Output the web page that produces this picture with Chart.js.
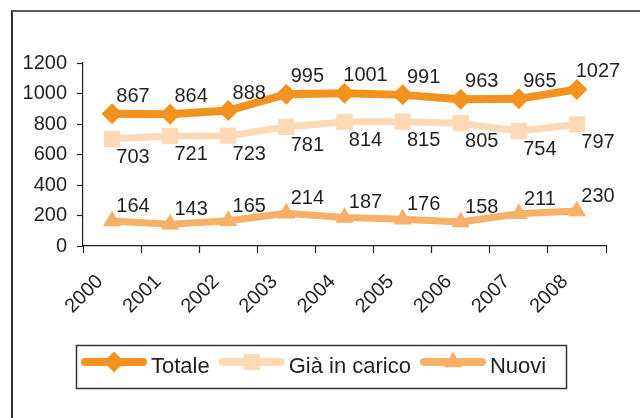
<!DOCTYPE html>
<html>
<head>
<meta charset="utf-8">
<script src="https://cdn.jsdelivr.net/npm/chart.js@4.4.1/dist/chart.umd.min.js"></script>
<style>
  html, body { margin: 0; padding: 0; background: #fff; }
  #wrap { position: relative; width: 640px; height: 418px; overflow: hidden; }
  /* outer frame of the original figure, cut off at right and bottom */
  #frame { position: absolute; left: 11px; top: 10px; width: 700px; height: 500px;
           border-top: 2px solid #5a5a5a; border-left: 2px solid #333; }
  canvas { position: absolute; left: 0; top: 0; }
</style>
</head>
<body>
<div id="wrap">
  <div id="frame"></div>
  <canvas id="chart" width="640" height="418"></canvas>
</div>
<script>
const years = ["2000", "2001", "2002", "2003", "2004", "2005", "2006", "2007", "2008"];
const totale = [867, 864, 888, 995, 1001, 991, 963, 965, 1027];
const giaInCarico = [703, 721, 723, 781, 814, 815, 805, 754, 797];
const nuovi = [164, 143, 165, 214, 187, 176, 158, 211, 230];
const yMin = 0, yMax = 1200, yStep = 200;

const FONT = '"Liberation Sans", Arial, Helvetica, sans-serif';
const INK = "#231f20";

/* value labels: above or below each point, nudged right like the original */
const valueLabels = {
  id: "valueLabels",
  afterDatasetsDraw(chart) {
    const ctx = chart.ctx;
    ctx.save();
    ctx.font = "20px " + FONT;
    ctx.fillStyle = INK;
    ctx.textAlign = "center";
    ctx.textBaseline = "alphabetic";
    chart.data.datasets.forEach((ds, di) => {
      chart.getDatasetMeta(di).data.forEach((pt, i) => {
        const y = ds.labelBelow ? pt.y + 24 : pt.y - ds.labelGap;
        ctx.fillText(String(ds.data[i]), pt.x + 21, y);
      });
    });
    ctx.restore();
  }
};

/* boxed legend with line + marker swatches */
const boxLegend = {
  id: "boxLegend",
  afterDraw(chart) {
    const ctx = chart.ctx;
    const box = { x: 76, y: 345, w: 490, h: 43 };
    ctx.save();
    ctx.strokeStyle = "#333";
    ctx.lineWidth = 1.5;
    ctx.strokeRect(box.x + 0.5, box.y + 0.5, box.w, box.h);
    ctx.font = "22px " + FONT;
    ctx.textBaseline = "alphabetic";
    let x = box.x + 5;
    const cy = box.y + 17;
    chart.data.datasets.forEach(ds => {
      ctx.strokeStyle = ds.borderColor;
      ctx.lineWidth = 8;
      ctx.lineCap = "round";
      ctx.beginPath();
      ctx.moveTo(x + 4, cy);
      ctx.lineTo(x + 62, cy);
      ctx.stroke();
      ctx.fillStyle = ds.borderColor;
      Chart.helpers.drawPoint(ctx, {
        pointStyle: ds.pointStyle, radius: ds.pointRadius, rotation: 0, borderWidth: 0
      }, x + 33, cy);
      ctx.fillStyle = INK;
      ctx.fillText(ds.label, x + 70, cy + 11);
      x += 70 + ctx.measureText(ds.label).width + 9;
    });
    ctx.restore();
  }
};

function series(label, data, color, style, radius, width, extra) {
  return Object.assign({
    label, data,
    borderColor: color, backgroundColor: color,
    borderWidth: width, tension: 0,
    pointStyle: style, pointRadius: radius, pointHoverRadius: radius,
    pointBackgroundColor: color, pointBorderWidth: 0
  }, extra);
}

new Chart(document.getElementById("chart"), {
  type: "line",
  data: {
    labels: years,
    datasets: [
      series("Totale", totale, "#f4921f", "rectRot", 10.5, 8, { labelGap: 12 }),
      series("Già in carico", giaInCarico, "#fdd9b5", "rect", 11.5, 7, { labelBelow: true }),
      series("Nuovi", nuovi, "#f7b066", "triangle", 10.5, 7, { labelGap: 9 })
    ]
  },
  options: {
    responsive: false,
    animation: false,
    layout: { padding: { left: 0, top: 63, right: 34, bottom: 92 } },
    plugins: { legend: { display: false }, tooltip: { enabled: false } },
    scales: {
      x: {
        offset: true,
        grid: { offset: true, drawOnChartArea: false, tickLength: 7, tickColor: INK, tickWidth: 1.2 },
        border: { color: INK, width: 1.2 },
        ticks: {
          color: INK, font: { size: 20, family: FONT },
          minRotation: 45, maxRotation: 45, autoSkip: false,
          padding: 17, labelOffset: -12
        },
        afterFit: s => { s.height = 80; }
      },
      y: {
        min: yMin, max: yMax,
        grid: { drawOnChartArea: false, tickLength: 6, tickColor: INK, tickWidth: 1.2 },
        border: { color: INK, width: 1.2 },
        ticks: {
          stepSize: yStep, color: INK, font: { size: 20, family: FONT }, padding: 10,
          callback: v => String(v)
        },
        afterFit: s => { s.width = 83; }
      }
    }
  },
  plugins: [valueLabels, boxLegend]
});
</script>
</body>
</html>
